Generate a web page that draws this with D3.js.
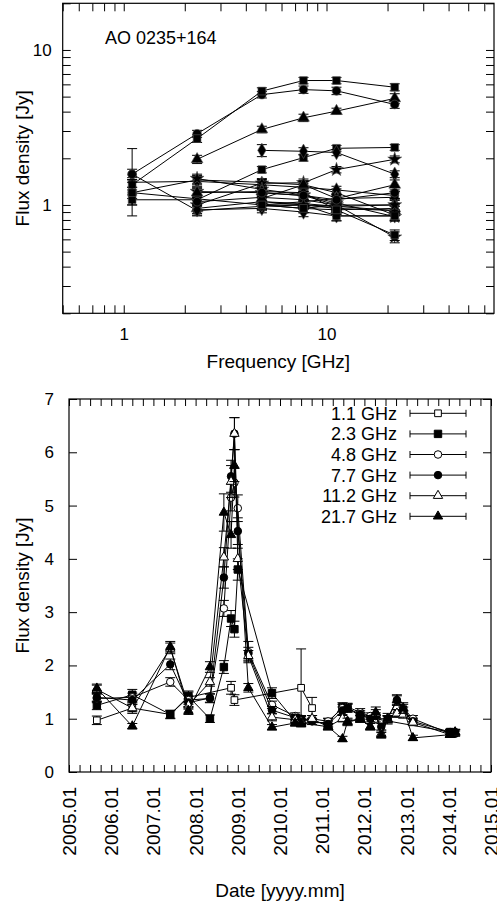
<!DOCTYPE html>
<html>
<head>
<meta charset="utf-8">
<script src="https://cdn.jsdelivr.net/npm/d3@7"></script>
<style>
  body { margin: 0; background: #fff; }
  svg { display: block; font-family: "Liberation Sans", Arial, Helvetica, sans-serif; }
</style>
</head>
<body>
<div id="chart"></div>
<script>
// ---- data ----
const sourceName = "AO 0235+164";
const freqs = [1.1, 2.3, 4.8, 7.7, 11.2, 21.7];
const freqLabels = ["1.1 GHz", "2.3 GHz", "4.8 GHz", "7.7 GHz", "11.2 GHz", "21.7 GHz"];
const dateLabels = ["2005.01", "2006.01", "2007.01", "2008.01", "2009.01", "2010.01",
                    "2011.01", "2012.01", "2013.01", "2014.01", "2015.01"];

// observing epochs (decimal year)
const epochs = [2005.66, 2006.50, 2007.40, 2007.83, 2008.34, 2008.67, 2008.84, 2008.92, 2009.00,
                2009.25, 2009.81, 2010.36, 2010.50, 2010.76, 2011.14, 2011.48, 2011.60, 2011.90,
                2012.14, 2012.27, 2012.40, 2012.55, 2012.77, 2012.92, 2013.15, 2014.03, 2014.15];

// flux density [Jy] and error per frequency, null = not observed
const flux11  = [0.97, 1.20, 1.08, 1.40, null, null, 1.58, 1.35, null, null, null, null, 1.58, 1.20,
                 null, null, null, null, null, null, null, null, null, null, null, null, null];
const err11   = [0.08, 0.10, 0.08, 0.10, null, null, 0.12, 0.10, null, null, null, null, 0.73, 0.20,
                 null, null, null, null, null, null, null, null, null, null, null, null, null];
const flux23  = [1.25, 1.45, 1.08, 1.42, 1.00, 1.97, 2.88, 2.68, 3.80, null, 1.48, 0.95, 0.92, null,
                 0.93, 1.22, 1.20, 1.05, null, null, null, null, null, null, null, 0.75, null];
const err23   = [0.08, 0.10, 0.07, 0.10, 0.07, 0.12, 0.15, 0.15, 0.20, null, 0.10, 0.07, 0.07, null,
                 0.07, 0.08, 0.08, 0.07, null, null, null, null, null, null, null, 0.05, null];
const flux48  = [1.38, 1.40, 1.69, 1.35, 1.38, 3.07, 5.15, 5.43, 4.95, 2.25, 1.26, 1.05, 0.98, 1.00,
                 0.95, 1.20, 1.22, 1.12, 1.05, 1.00, null, 1.00, 1.10, 1.20, 1.00, 0.72, 0.75];
const err48   = [0.08, 0.08, 0.08, 0.08, 0.08, 0.15, 0.25, 0.27, 0.25, 0.20, 0.07, 0.06, 0.06, 0.06,
                 0.06, 0.07, 0.07, 0.07, 0.06, 0.06, null, 0.06, 0.07, 0.07, 0.06, 0.05, 0.05];
const flux77  = [1.40, 1.35, 2.02, 1.30, 1.39, 3.65, 5.55, 6.35, 4.52, 2.22, 1.16, 1.02, 1.00, 0.95,
                 0.90, 1.15, 1.20, 1.08, 1.00, 1.05, 0.85, 1.00, 1.35, 1.15, 0.95, 0.75, 0.72];
const err77   = [0.08, 0.08, 0.10, 0.07, 0.08, 0.20, 0.30, 0.30, 0.25, 0.12, 0.07, 0.06, 0.06, 0.06,
                 0.06, 0.07, 0.07, 0.07, 0.06, 0.06, 0.06, 0.06, 0.08, 0.07, 0.06, 0.05, 0.05];
const flux112 = [1.55, 1.20, 2.32, 1.25, 1.69, 4.03, 5.45, 6.35, 4.00, 2.18, 1.03, 0.98, 0.95, 1.00,
                 0.85, 1.00, 0.93, 1.00, 0.85, 1.10, 0.72, 0.98, 1.10, 1.08, 0.93, 0.70, 0.74];
const err112  = [0.08, 0.07, 0.10, 0.07, 0.08, 0.18, 0.30, 0.30, 0.20, 0.10, 0.07, 0.06, 0.06, 0.06,
                 0.06, 0.06, 0.06, 0.06, 0.06, 0.07, 0.05, 0.06, 0.07, 0.07, 0.06, 0.05, 0.05];
const flux217 = [1.57, 0.86, 2.35, 1.15, 1.97, 4.87, 4.45, 5.75, null, 1.58, 0.84, 0.92, 0.92, null,
                 0.85, 0.62, 0.95, 1.00, 0.85, 1.12, 0.69, 1.00, 1.35, 1.20, 0.64, 0.70, 0.75];
const err217  = [0.08, 0.05, 0.10, 0.07, 0.10, 0.35, 0.25, 0.30, null, 0.08, 0.05, 0.06, 0.06, null,
                 0.06, 0.05, 0.06, 0.07, 0.06, 0.10, 0.05, 0.10, 0.10, 0.10, 0.05, 0.05, 0.05];

// epochs shown as spectra in the upper panel
const skippedSpectra = [2005.66, 2009.00, 2012.40, 2014.03, 2014.15];
const spectrumEpochs = epochs.filter(t => !skippedSpectra.includes(t));

// ---- table built from the arrays ----
const fluxes = [flux11, flux23, flux48, flux77, flux112, flux217];
const errors = [err11, err23, err48, err77, err112, err217];
const series = freqs.map((f, i) => ({
  freq: f,
  label: freqLabels[i],
  points: epochs.map((t, j) => ({t: t, v: fluxes[i][j], e: errors[i][j]})).filter(d => d.v != null)
}));
const spectra = spectrumEpochs.map(t => {
  const j = epochs.indexOf(t);
  return freqs.map((f, i) => ({f: f, v: fluxes[i][j], e: errors[i][j]})).filter(d => d.v != null);
});

// ---- drawing ----
const W = 497, H = 906;
const svg = d3.select("#chart").append("svg").attr("width", W).attr("height", H);

const tickFont = 17, labelFont = 19;

function errPath(x, y0, y1, cap) {
  return "M" + x + "," + y0 + "V" + y1 +
         "M" + (x - cap) + "," + y0 + "H" + (x + cap) +
         "M" + (x - cap) + "," + y1 + "H" + (x + cap);
}

function styleAxis(g) {
  g.select(".domain").remove();
  g.selectAll(".tick line").attr("stroke", "#000");
  g.selectAll(".tick text").attr("font-size", tickFont).attr("fill", "#000")
    .attr("font-family", "Liberation Sans, Arial, sans-serif");
}

/* ---------- upper panel: spectra ---------- */
const pTop = {left: 62.7, right: 494, top: 3.3, bottom: 313.3};
const xF = d3.scaleLog().domain([0.5, 67]).range([pTop.left, pTop.right]);
const yF = d3.scaleLog().domain([0.2, 20]).range([pTop.bottom, pTop.top]);

const logTicks = (lo, hi) => {
  const out = [];
  [0.1, 1, 10].forEach(d => d3.range(1, 10).forEach(k => {
    const v = +(k * d).toFixed(2);
    if (v >= lo && v <= hi) out.push(v);
  }));
  return out;
};
const fTicks = logTicks(0.5, 67);
const sTicks = logTicks(0.2, 20);
const showLog = v => (v === 1 || v === 10) ? String(v) : "";

const gTop = svg.append("g");

gTop.append("g").attr("transform", `translate(0,${pTop.bottom})`)
  .call(d3.axisBottom(xF).tickValues(fTicks).tickSize(-8).tickPadding(15).tickFormat(showLog))
  .call(styleAxis);
gTop.append("g").attr("transform", `translate(0,${pTop.top})`)
  .call(d3.axisTop(xF).tickValues(fTicks).tickSize(-8).tickFormat(""))
  .call(styleAxis);
gTop.append("g").attr("transform", `translate(${pTop.left},0)`)
  .call(d3.axisLeft(yF).tickValues(sTicks).tickSize(-8).tickPadding(11).tickFormat(showLog))
  .call(styleAxis);
gTop.append("g").attr("transform", `translate(${pTop.right},0)`)
  .call(d3.axisRight(yF).tickValues(sTicks).tickSize(-8).tickFormat(""))
  .call(styleAxis);

gTop.append("rect")
  .attr("x", pTop.left).attr("y", pTop.top)
  .attr("width", pTop.right - pTop.left).attr("height", pTop.bottom - pTop.top)
  .attr("fill", "none").attr("stroke", "#000").attr("stroke-width", 1.2);

const specShapes = [d3.symbolCircle, d3.symbolSquare, d3.symbolDiamond, d3.symbolStar, d3.symbolTriangle];
const specLine = d3.line().x(d => xF(d.f)).y(d => yF(d.v));

spectra.forEach((pts, k) => {
  const g = gTop.append("g");
  g.append("path").attr("d", specLine(pts))
    .attr("fill", "none").attr("stroke", "#000").attr("stroke-width", 1);
  g.selectAll("path.err").data(pts).join("path").attr("class", "err")
    .attr("d", d => errPath(xF(d.f), yF(d.v + d.e), yF(d.v - d.e), 5))
    .attr("fill", "none").attr("stroke", "#000").attr("stroke-width", 1);
  g.selectAll("path.pt").data(pts).join("path").attr("class", "pt")
    .attr("transform", d => `translate(${xF(d.f)},${yF(d.v)})`)
    .attr("d", d3.symbol().type(specShapes[k % specShapes.length]).size(60))
    .attr("fill", "#000").attr("stroke", "#555").attr("stroke-width", 0.6);
});

gTop.append("text").attr("x", 105).attr("y", 44)
  .attr("font-size", 18).text(sourceName);

gTop.append("text")
  .attr("transform", `translate(29,${(pTop.top + pTop.bottom) / 2}) rotate(-90)`)
  .attr("text-anchor", "middle").attr("font-size", labelFont).text("Flux density [Jy]");
gTop.append("text")
  .attr("x", (pTop.left + pTop.right) / 2).attr("y", 368)
  .attr("text-anchor", "middle").attr("font-size", labelFont).text("Frequency [GHz]");

/* ---------- lower panel: light curves ---------- */
const pBot = {left: 69, right: 491, top: 399, bottom: 772};
const xT = d3.scaleLinear().domain([2005, 2015]).range([pBot.left, pBot.right]);
const yT = d3.scaleLinear().domain([0, 7]).range([pBot.bottom, pBot.top]);

const quarterTicks = d3.range(2005, 2015.001, 0.25);
const gBot = svg.append("g");

gBot.append("g").attr("transform", `translate(0,${pBot.bottom})`)
  .call(d3.axisBottom(xT).tickValues(quarterTicks).tickSize(-7).tickFormat(""))
  .call(styleAxis);
gBot.append("g").attr("transform", `translate(0,${pBot.top})`)
  .call(d3.axisTop(xT).tickValues(quarterTicks).tickSize(-7).tickFormat(""))
  .call(styleAxis);
gBot.append("g").attr("transform", `translate(${pBot.left},0)`)
  .call(d3.axisLeft(yT).ticks(7).tickSize(-8).tickPadding(15).tickFormat(d3.format("d")))
  .call(styleAxis);
gBot.append("g").attr("transform", `translate(${pBot.right},0)`)
  .call(d3.axisRight(yT).ticks(7).tickSize(-8).tickFormat(""))
  .call(styleAxis);

gBot.append("rect")
  .attr("x", pBot.left).attr("y", pBot.top)
  .attr("width", pBot.right - pBot.left).attr("height", pBot.bottom - pBot.top)
  .attr("fill", "none").attr("stroke", "#000").attr("stroke-width", 1.2);

// rotated date labels
gBot.selectAll("text.date").data(dateLabels).join("text").attr("class", "date")
  .attr("transform", (d, i) => `translate(${xT(2005 + i) + 7},787) rotate(-90)`)
  .attr("text-anchor", "end").attr("font-size", 19).text(d => d);

const markers = [
  {type: d3.symbolSquare, fill: "#fff", size: 45},
  {type: d3.symbolSquare, fill: "#000", size: 55},
  {type: d3.symbolCircle, fill: "#fff", size: 45},
  {type: d3.symbolCircle, fill: "#000", size: 45},
  {type: d3.symbolTriangle, fill: "#fff", size: 38},
  {type: d3.symbolTriangle, fill: "#000", size: 38}
];

const tLine = d3.line().x(d => xT(d.t)).y(d => yT(d.v));

series.forEach((s, i) => {
  const g = gBot.append("g");
  g.append("path").attr("d", tLine(s.points))
    .attr("fill", "none").attr("stroke", "#000").attr("stroke-width", 1);
  g.selectAll("path.err").data(s.points).join("path").attr("class", "err")
    .attr("d", d => errPath(xT(d.t), yT(d.v + d.e), yT(d.v - d.e), 5))
    .attr("fill", "none").attr("stroke", "#000").attr("stroke-width", 1);
  g.selectAll("path.pt").data(s.points).join("path").attr("class", "pt")
    .attr("transform", d => `translate(${xT(d.t)},${yT(d.v)})`)
    .attr("d", d3.symbol().type(markers[i].type).size(markers[i].size))
    .attr("fill", markers[i].fill).attr("stroke", "#000").attr("stroke-width", 1);
});

// legend
const legend = gBot.append("g");
series.forEach((s, i) => {
  const y = 413.3 + i * 20.6;
  legend.append("text").attr("x", 397).attr("y", y).attr("dy", "0.36em")
    .attr("text-anchor", "end").attr("font-size", 18).text(s.label);
  legend.append("path")
    .attr("d", `M410,${y}H466M410,${y - 3.5}V${y + 3.5}M466,${y - 3.5}V${y + 3.5}`)
    .attr("fill", "none").attr("stroke", "#000").attr("stroke-width", 1);
  legend.append("path").attr("transform", `translate(438,${y})`)
    .attr("d", d3.symbol().type(markers[i].type).size(markers[i].size))
    .attr("fill", markers[i].fill).attr("stroke", "#000").attr("stroke-width", 1);
});

gBot.append("text")
  .attr("transform", `translate(29,${(pBot.top + pBot.bottom) / 2}) rotate(-90)`)
  .attr("text-anchor", "middle").attr("font-size", labelFont).text("Flux density [Jy]");
gBot.append("text")
  .attr("x", (pBot.left + pBot.right) / 2).attr("y", 897)
  .attr("text-anchor", "middle").attr("font-size", labelFont).text("Date [yyyy.mm]");
</script>
</body>
</html>
